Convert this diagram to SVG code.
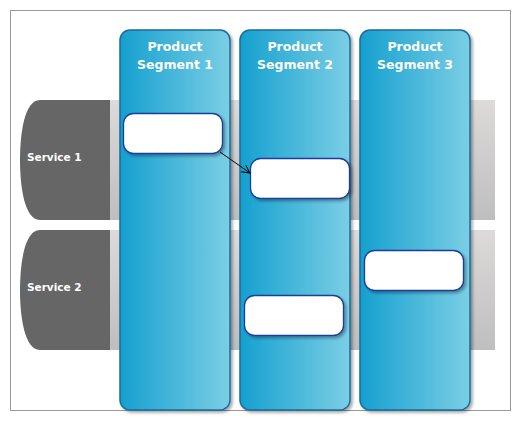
<svg xmlns="http://www.w3.org/2000/svg" width="520" height="425" viewBox="0 0 520 425">
<defs>
<linearGradient id="band" x1="0" y1="0" x2="0" y2="1"><stop offset="0" stop-color="#dddad9"/><stop offset="1" stop-color="#bfbebf"/></linearGradient>
<linearGradient id="col" x1="0" y1="0" x2="1" y2="0"><stop offset="0" stop-color="#15a0cf"/><stop offset="1" stop-color="#7bcee5"/></linearGradient>
<filter id="sh" x="-10%" y="-10%" width="130%" height="130%"><feGaussianBlur in="SourceAlpha" stdDeviation="1.5"/><feOffset dx="2" dy="2" result="b"/><feComponentTransfer><feFuncA type="linear" slope="0.35"/></feComponentTransfer><feMerge><feMergeNode/><feMergeNode in="SourceGraphic"/></feMerge></filter>
<marker id="arr" markerWidth="10" markerHeight="10" refX="9" refY="5" orient="auto" markerUnits="userSpaceOnUse"><path d="M1,1 L9,5 L1,9" fill="none" stroke="#000" stroke-width="1"/></marker>
</defs>
<style>
.svc{fill:#666666}
.svct{font-family:"DejaVu Sans",sans-serif;font-weight:bold;font-size:10.5px;fill:#fff}
.colr{fill:url(#col);stroke:#1a6c9c;stroke-width:1.5}
.colt{font-family:"DejaVu Sans",sans-serif;font-weight:bold;font-size:12.5px;fill:#fff;text-anchor:middle}
.box{fill:#fff;stroke:#1b3c9a;stroke-width:1.3}
</style>
<rect x="10.5" y="10.5" width="500" height="400" fill="#fff" stroke="#999"/>
<g id="service1">
<rect x="110" y="100" width="385" height="120" fill="url(#band)"/>
<path class="svc" d="M110,100 H40 C24,100 20,135 20,160 C20,185 24,220 40,220 H110 Z"/>
<text class="svct" x="27" y="161">Service 1</text>
</g>
<g id="service2">
<rect x="110" y="230" width="385" height="120" fill="url(#band)"/>
<path class="svc" d="M110,230 H40 C24,230 20,265 20,290 C20,315 24,350 40,350 H110 Z"/>
<text class="svct" x="27" y="291">Service 2</text>
</g>
<g id="segment1">
<rect class="colr" x="120" y="30" width="110" height="380" rx="10" filter="url(#sh)"/>
<text class="colt" x="175" y="51">Product</text>
<text class="colt" x="175" y="69">Segment 1</text>
</g>
<g id="segment2">
<rect class="colr" x="240" y="30" width="110" height="380" rx="10" filter="url(#sh)"/>
<text class="colt" x="295" y="51">Product</text>
<text class="colt" x="295" y="69">Segment 2</text>
</g>
<g id="segment3">
<rect class="colr" x="360" y="30" width="110" height="380" rx="10" filter="url(#sh)"/>
<text class="colt" x="415" y="51">Product</text>
<text class="colt" x="415" y="69">Segment 3</text>
</g>
<g id="box1"><rect class="box" x="123.5" y="113.5" width="99" height="40" rx="10" filter="url(#sh)"/></g>
<g id="box2"><rect class="box" x="250.5" y="158.5" width="99" height="40" rx="10" filter="url(#sh)"/></g>
<g id="box3"><rect class="box" x="244.5" y="295.5" width="99" height="40" rx="10" filter="url(#sh)"/></g>
<g id="box4"><rect class="box" x="364.5" y="250.5" width="99" height="40" rx="10" filter="url(#sh)"/></g>
<g id="connectors">
<line x1="220" y1="152" x2="250" y2="173" stroke="#000" stroke-width="1" marker-end="url(#arr)"/>
</g>
</svg>
